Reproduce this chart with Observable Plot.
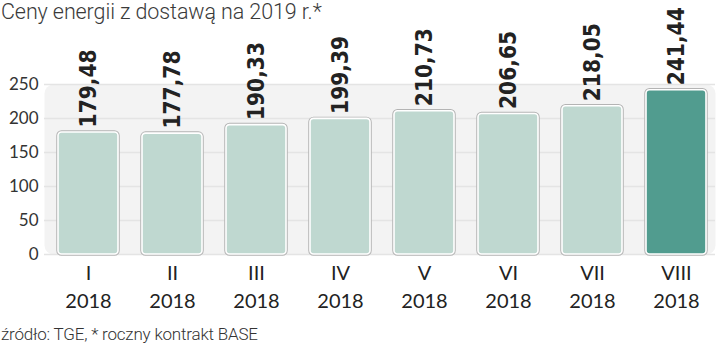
<!DOCTYPE html>
<html>
<head>
<meta charset="utf-8">
<script src="https://cdn.jsdelivr.net/npm/d3@7"></script>
<script src="https://cdn.jsdelivr.net/npm/@observablehq/plot@0.6"></script>
<style>
  html, body { margin: 0; padding: 0; background: #fff; }
  #wrap { width: 720px; height: 344px; position: relative; overflow: hidden; }
  #title { position: absolute; left: 1px; top: 0; font-family: Roboto, sans-serif; font-weight: 300; font-size: 21.5px; line-height: 24px; color: #3a3a3a; letter-spacing: -0.1px; }
  #caption { position: absolute; left: 1px; top: 324px; font-family: Roboto, sans-serif; font-weight: 300; font-size: 17px; line-height: 20px; color: #333; letter-spacing: -0.2px; }
  #chart { position: absolute; left: 0; top: 0; }
  svg { display: block; }
</style>
</head>
<body>
<div id="wrap">
  <div id="chart"></div>
  <div id="title">Ceny energii z dostawą na 2019 r.*</div>
  <div id="caption">źródło: TGE, * roczny kontrakt BASE</div>
</div>
<script>
const months = ["I", "II", "III", "IV", "V", "VI", "VII", "VIII"];
const years = ["2018", "2018", "2018", "2018", "2018", "2018", "2018", "2018"];
const prices = [179.48, 177.78, 190.33, 199.39, 210.73, 206.65, 218.05, 241.44];
const highlighted = [false, false, false, false, false, false, false, true];
const yTicks = [0, 50, 100, 150, 200, 250];

const data = months.map((m, i) => ({
  label: m + "\n" + years[i],
  value: prices[i],
  hl: highlighted[i],
  text: prices[i].toFixed(2).replace(".", ",")
}));

const chart = Plot.plot({
  width: 720,
  height: 320,
  marginTop: 84,
  marginBottom: 66,
  marginLeft: 44,
  marginRight: 0,
  style: { fontFamily: "Lato, sans-serif", background: "transparent", overflow: "visible" },
  x: { domain: data.map(d => d.label), paddingInner: 0.29, paddingOuter: 0.145, align: 0.5 },
  y: { domain: [0, 250], ticks: yTicks },
  marks: [
    Plot.frame({ fill: "#f3f3f3", stroke: "none", rx: 9, insetRight: 5 }),
    Plot.gridY(yTicks, { stroke: "#e4e4e4", strokeOpacity: 1, strokeWidth: 1.5, insetRight: 5 }),
    Plot.axisY(yTicks, { tickSize: 0, tickPadding: 6, fontSize: 17, fill: "#333", label: null, fontFamily: "Lato, sans-serif" }),
    Plot.axisX({ tickSize: 0, tickPadding: 6, fontSize: 20, lineHeight: 1.38, fill: "#222", label: null, fontFamily: "Lato, sans-serif" }),
    Plot.barY(data, { x: "label", y: "value", fill: d => d.hl ? "#519c8f" : "#bfd8d0", stroke: "#b4b4b4", strokeWidth: 3.5, rx: 3.5 }),
    Plot.barY(data, { x: "label", y: "value", fill: d => d.hl ? "#519c8f" : "#bfd8d0", stroke: "#ffffff", strokeWidth: 1.6, rx: 3.5 }),
    Plot.text(data, { x: "label", y: "value", text: "text", rotate: -90, textAnchor: "start", lineAnchor: "middle", dy: -5, fontSize: 22.5, fontWeight: "bold", fill: "#222", fontFamily: "DejaVu Sans Condensed, DejaVu Sans, sans-serif" })
  ]
});
document.getElementById("chart").appendChild(chart);
</script>
</body>
</html>
